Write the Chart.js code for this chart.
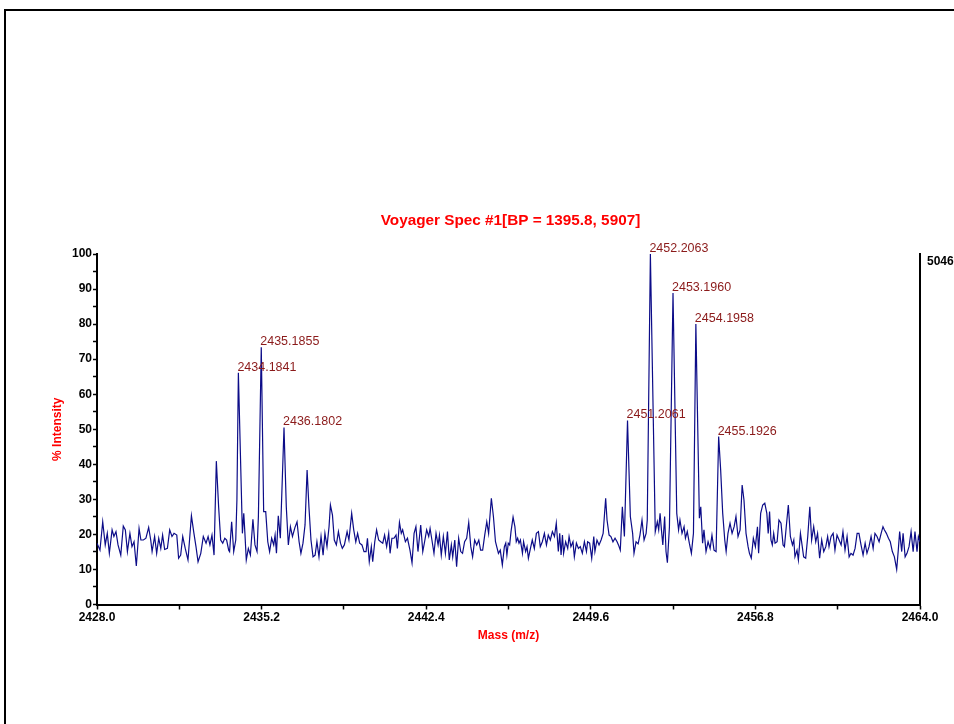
<!DOCTYPE html>
<html>
<head>
<meta charset="utf-8">
<script src="https://cdn.jsdelivr.net/npm/chart.js@4.4.1/dist/chart.umd.min.js"></script>
<style>
  html, body { margin: 0; padding: 0; background: #fff; overflow: hidden; }
  #wrap { position: relative; width: 954px; height: 724px; overflow: hidden; }
  #frame { position: absolute; left: 4px; top: 9px; width: 1000px; height: 800px;
           border: 2px solid #000; box-sizing: border-box; pointer-events: none; }
  #c { position: absolute; left: 0; top: 0; }
</style>
</head>
<body>
<div id="wrap">
  <canvas id="c" width="954" height="724"></canvas>
  <div id="frame"></div>
</div>
<script>
// Spectrum trace: m/z and % intensity
const mass = [
  2428.00,2428.13,2428.25,2428.36,2428.45,2428.54,2428.66,2428.74,2428.83,2428.92,
  2429.04,2429.15,2429.24,2429.33,2429.44,2429.53,2429.62,2429.72,2429.84,2429.92,
  2430.03,2430.14,2430.26,2430.35,2430.41,2430.52,2430.61,2430.70,2430.79,2430.87,
  2430.96,2431.08,2431.18,2431.28,2431.37,2431.49,2431.57,2431.66,2431.75,2431.86,
  2431.98,2432.13,2432.24,2432.33,2432.42,2432.54,2432.65,2432.77,2432.86,2432.94,
  2433.03,2433.12,2433.22,2433.32,2433.41,2433.50,2433.59,2433.67,2433.76,2433.80,
  2433.89,2433.98,2434.07,2434.12,2434.1841,2434.36,2434.42,2434.47,2434.53,2434.62,
  2434.71,2434.82,2434.91,2435.00,2435.06,2435.1855,2435.29,2435.38,2435.47,2435.55,
  2435.64,2435.73,2435.79,2435.85,2435.93,2436.02,2436.1802,2436.28,2436.37,2436.46,
  2436.55,2436.66,2436.75,2436.84,2436.92,2437.01,2437.10,2437.19,2437.27,2437.36,
  2437.45,2437.54,2437.62,2437.71,2437.80,2437.89,2437.97,2438.06,2438.15,2438.21,
  2438.30,2438.38,2438.47,2438.56,2438.65,2438.73,2438.82,2438.94,2439.02,2439.14,
  2439.23,2439.32,2439.40,2439.49,2439.59,2439.68,2439.77,2439.83,2439.91,2440.00,
  2440.06,2440.15,2440.23,2440.32,2440.41,2440.50,2440.58,2440.67,2440.76,2440.82,
  2440.90,2440.99,2441.08,2441.14,2441.23,2441.31,2441.37,2441.49,2441.58,2441.69,
  2441.78,2441.87,2441.95,2442.04,2442.16,2442.25,2442.33,2442.42,2442.51,2442.57,
  2442.65,2442.74,2442.83,2442.92,2442.98,2443.06,2443.15,2443.24,2443.33,2443.41,
  2443.50,2443.56,2443.65,2443.73,2443.82,2443.91,2443.99,2444.08,2444.17,2444.26,
  2444.35,2444.43,2444.52,2444.61,2444.70,2444.78,2444.87,2444.96,2445.05,2445.13,
  2445.25,2445.34,2445.43,2445.56,2445.64,2445.73,2445.82,2445.88,2445.93,2445.99,
  2446.05,2446.11,2446.20,2446.28,2446.34,2446.40,2446.46,2446.52,2446.61,2446.66,
  2446.75,2446.81,2446.87,2446.96,2447.04,2447.13,2447.22,2447.31,2447.39,2447.48,
  2447.57,2447.66,2447.74,2447.83,2447.92,2448.01,2448.09,2448.18,2448.24,2448.30,
  2448.36,2448.41,2448.50,2448.59,2448.65,2448.73,2448.82,2448.88,2448.97,2449.06,
  2449.14,2449.23,2449.32,2449.41,2449.46,2449.55,2449.64,2449.73,2449.78,2449.87,
  2449.96,2450.05,2450.14,2450.25,2450.31,2450.40,2450.48,2450.57,2450.66,2450.75,
  2450.81,2450.89,2450.98,2451.07,2451.2061,2451.33,2451.43,2451.49,2451.58,2451.67,
  2451.75,2451.84,2451.93,2452.02,2452.07,2452.2063,2452.42,2452.51,2452.57,2452.63,
  2452.69,2452.75,2452.83,2452.89,2452.95,2453.04,2453.1960,2453.36,2453.44,2453.50,
  2453.59,2453.68,2453.74,2453.82,2453.91,2454.00,2454.09,2454.1958,2454.35,2454.41,
  2454.49,2454.55,2454.64,2454.73,2454.82,2454.90,2454.99,2455.08,2455.1926,2455.28,
  2455.37,2455.46,2455.52,2455.60,2455.69,2455.78,2455.87,2455.95,2456.04,2456.13,
  2456.22,2456.30,2456.39,2456.48,2456.54,2456.62,2456.71,2456.80,2456.89,2456.94,
  2457.03,2457.12,2457.21,2457.30,2457.36,2457.42,2457.48,2457.54,2457.60,2457.66,
  2457.75,2457.83,2457.92,2458.01,2458.07,2458.15,2458.24,2458.33,2458.42,2458.48,
  2458.53,2458.62,2458.68,2458.77,2458.85,2458.91,2459.00,2459.09,2459.18,2459.26,
  2459.35,2459.44,2459.52,2459.61,2459.70,2459.79,2459.88,2459.96,2460.02,2460.11,
  2460.20,2460.28,2460.37,2460.46,2460.55,2460.63,2460.72,2460.81,2460.90,2460.98,
  2461.07,2461.16,2461.25,2461.33,2461.42,2461.51,2461.60,2461.68,2461.77,2461.86,
  2461.95,2462.03,2462.12,2462.21,2462.30,2462.38,2462.44,2462.53,2462.62,2462.70,
  2462.79,2462.88,2462.98,2463.05,2463.11,2463.20,2463.26,2463.35,2463.43,2463.52,
  2463.61,2463.70,2463.78,2463.87,2463.93,2464.00
];
const intensity = [
  17.5,15.5,23.6,17.0,20.3,14.6,21.3,19.4,20.8,17.0,
  14.1,22.4,21.3,15.1,20.3,16.5,17.9,11.0,21.7,18.4,
  18.4,18.9,22.0,18.4,15.1,19.4,14.6,18.9,16.0,19.8,
  15.7,16.0,21.3,19.4,20.3,19.8,13.2,14.1,19.4,16.0,
  12.7,25.3,20.3,16.5,12.2,14.6,19.4,17.5,19.4,17.0,
  19.8,14.1,40.9,27.9,18.4,17.5,18.9,18.4,15.5,15.1,
  23.6,15.1,18.4,29.8,66.1,20.3,26.0,20.3,12.7,16.0,
  14.1,24.3,17.0,15.1,25.1,73.4,26.5,26.5,17.9,15.1,
  18.9,17.0,19.8,14.6,25.3,18.9,50.5,27.9,17.0,22.2,
  19.4,22.0,23.6,17.9,14.6,17.5,22.7,38.4,27.9,18.4,
  13.6,14.1,17.9,13.6,19.4,14.1,20.3,16.5,22.2,28.4,
  25.5,18.4,17.0,20.8,17.5,16.0,17.0,20.8,18.4,26.0,
  21.3,17.9,20.3,17.5,17.0,15.1,15.1,18.9,12.2,16.5,
  12.2,17.9,21.3,18.4,17.9,17.5,19.8,16.5,20.3,14.6,
  18.9,18.9,19.8,16.0,23.4,20.3,21.3,17.9,18.9,15.5,
  11.9,20.3,22.2,15.1,22.7,15.1,17.9,21.3,19.4,21.7,
  18.4,14.6,20.3,17.0,19.8,14.1,19.4,14.6,20.8,12.7,
  17.0,13.6,18.4,10.8,18.9,15.1,14.6,17.9,18.9,23.4,
  16.5,13.6,18.4,17.0,18.4,15.5,15.5,19.8,23.6,20.3,
  30.3,25.1,17.9,14.6,15.5,11.3,16.5,17.5,14.1,17.5,
  17.0,20.8,24.9,22.2,17.9,18.9,17.5,18.4,14.6,17.9,
  15.1,16.5,13.2,16.0,18.4,16.0,20.3,20.8,16.5,17.9,
  20.3,17.0,19.8,18.4,20.8,19.4,23.2,15.1,20.3,14.1,
  19.8,14.6,17.9,16.0,19.4,16.5,17.9,13.6,17.5,16.0,
  16.5,14.6,17.9,15.1,17.9,17.5,13.2,19.4,15.1,18.4,
  17.0,18.4,20.3,30.3,24.1,19.8,19.4,17.9,18.9,17.9,
  17.0,15.5,27.9,19.4,52.5,25.1,20.3,14.6,17.9,17.3,
  19.8,24.1,18.4,20.3,24.1,100.0,20.8,23.6,21.3,26.0,
  21.3,17.0,25.1,15.1,11.9,22.2,88.9,26.0,21.3,24.1,
  20.3,22.2,18.9,20.8,17.5,14.6,20.3,80.0,24.6,27.9,
  17.5,21.3,15.1,17.9,16.0,19.8,15.5,15.1,47.9,38.4,
  26.0,18.4,15.1,20.3,23.2,20.3,22.2,25.1,19.4,21.3,
  34.1,29.8,20.3,16.5,14.6,13.2,18.9,16.5,22.2,14.6,
  26.0,28.4,28.9,26.0,20.3,26.5,18.4,17.0,20.3,17.5,
  17.9,24.1,23.2,17.0,16.5,22.2,28.4,19.4,17.0,18.4,
  13.6,15.5,12.7,20.3,16.5,13.6,13.2,19.4,27.9,18.4,
  22.2,17.9,20.3,13.2,18.4,15.1,16.5,19.4,16.5,19.4,
  20.3,15.5,19.8,18.4,17.0,20.8,15.5,19.4,13.6,14.6,
  14.1,16.0,20.3,20.3,17.0,14.1,17.5,14.6,16.5,19.4,
  16.0,20.3,19.4,17.9,20.3,22.2,21.3,20.3,18.9,17.9,
  15.1,13.6,10.0,15.5,20.8,15.1,20.3,13.6,14.6,16.5,
  20.8,15.1,20.8,15.1,19.4,17.9
];

// Annotated isotope peaks (m/z)
const peakLabels = [2434.1841, 2435.1855, 2436.1802, 2451.2061, 2452.2063, 2453.1960, 2454.1958, 2455.1926];

// Axis ticks
const xMajorTicks = [2428.0, 2435.2, 2442.4, 2449.6, 2456.8, 2464.0];
const xTickLabels = ['2428.0', '2435.2', '2442.4', '2449.6', '2456.8', '2464.0'];
const xMinorTicks = [2431.6, 2438.8, 2446.0, 2453.2, 2460.4];
const yTickLabels = ['0', '10', '20', '30', '40', '50', '60', '70', '80', '90', '100'];

const titleText = 'Voyager Spec #1[BP = 1395.8, 5907]';
const basePeakCounts = 5046;

const FAMILY = 'Arial, "Liberation Sans", Helvetica, sans-serif';
Chart.defaults.font.family = FAMILY;

// Spectrum heading, centred over the plot area
const headingPlugin = {
  id: 'heading',
  afterDraw(chart) {
    const { ctx, chartArea } = chart;
    ctx.save();
    ctx.font = 'bold 15.3px ' + FAMILY;
    ctx.fillStyle = '#ff0000';
    ctx.textAlign = 'center';
    ctx.textBaseline = 'middle';
    ctx.fillText(titleText, (chartArea.left + chartArea.right) / 2 + 2, chartArea.top - 33);
    ctx.restore();
  }
};

// m/z annotations above the isotope peaks
const peakLabelPlugin = {
  id: 'peakLabels',
  afterDatasetsDraw(chart) {
    const { ctx, scales: { x, y } } = chart;
    ctx.save();
    ctx.font = '12.5px ' + FAMILY;
    ctx.fillStyle = '#8b1a1a';
    ctx.textAlign = 'left';
    ctx.textBaseline = 'alphabetic';
    peakLabels.forEach(m => {
      const i = mass.indexOf(m);
      if (i < 0) return;
      const px = x.getPixelForValue(m);
      const py = y.getPixelForValue(intensity[i]);
      ctx.fillText(m.toFixed(4), px - 1, py - 2);
    });
    ctx.restore();
  }
};

const tickFont = { family: FAMILY, size: 12, weight: 'bold' };
const axisTitleFont = { family: FAMILY, size: 12, weight: 'bold' };

new Chart(document.getElementById('c'), {
  type: 'line',
  data: {
    datasets: [{
      data: mass.map((m, i) => ({ x: m, y: intensity[i] })),
      borderColor: '#0c0c88',
      borderWidth: 1.2,
      pointRadius: 0,
      tension: 0,
      fill: false
    }]
  },
  options: {
    responsive: false,
    animation: false,
    events: [],
    layout: { padding: { left: 50.8, right: 0, top: 254, bottom: 81.1 } },
    plugins: {
      legend: { display: false },
      tooltip: { enabled: false },
      title: { display: false }
    },
    scales: {
      x: {
        type: 'linear',
        min: 2428,
        max: 2464,
        afterBuildTicks(s) {
          s.ticks = xMajorTicks.concat(xMinorTicks).sort((a, b) => a - b).map(v => ({ value: v }));
        },
        ticks: {
          autoSkip: false,
          maxRotation: 0,
          color: '#000',
          font: tickFont,
          padding: 1,
          callback(v) {
            const k = xMajorTicks.findIndex(t => Math.abs(t - v) < 1e-6);
            return k >= 0 ? xTickLabels[k] : '';
          }
        },
        grid: { drawOnChartArea: false, drawTicks: true, tickLength: 5, tickWidth: 1.5, tickColor: '#000' },
        border: { display: true, color: '#000', width: 2 },
        title: { display: true, text: 'Mass (m/z)', color: '#ff0000', font: axisTitleFont, padding: 0 },
        afterFit(s) { s.height = 38.4; }
      },
      y: {
        position: 'left',
        min: 0,
        max: 100,
        ticks: {
          stepSize: 5,
          color: '#000',
          font: tickFont,
          padding: 1,
          callback(v) {
            return v % 10 === 0 ? yTickLabels[v / 10] : '';
          }
        },
        grid: { drawOnChartArea: false, drawTicks: true, tickLength: 4, tickWidth: 1.5, tickColor: '#000' },
        border: { display: true, color: '#000', width: 2 },
        title: { display: true, text: '% Intensity', color: '#ff0000', font: axisTitleFont, padding: 0 },
        afterFit(s) { s.width = 46.2; }
      },
      y2: {
        position: 'right',
        min: 0,
        max: 100,
        afterBuildTicks(s) { s.ticks = [{ value: 100 }]; },
        ticks: {
          color: '#000',
          font: tickFont,
          padding: 7,
          labelOffset: 8,
          callback() { return String(basePeakCounts); }
        },
        grid: { drawOnChartArea: false, drawTicks: false },
        border: { display: true, color: '#000', width: 2 },
        afterFit(s) { s.width = 34; }
      }
    }
  },
  plugins: [peakLabelPlugin, headingPlugin]
});
</script>
</body>
</html>
